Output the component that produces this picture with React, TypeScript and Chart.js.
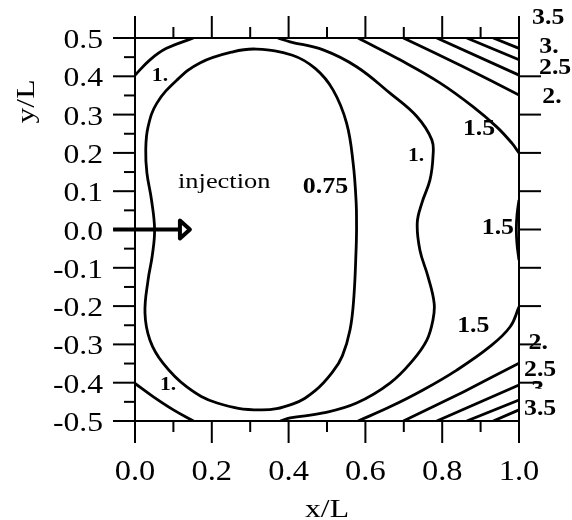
import React, { useEffect, useRef } from "react";
import { Chart, registerables } from "chart.js";

Chart.register(...registerables);

type Pt = [number, number];

// ---- axis ticks ----
const xTicks = [0, 0.2, 0.4, 0.6, 0.8, 1.0];
const xMinorTicks = [0.1, 0.3, 0.5, 0.7, 0.9];
const yTicks = [-0.5, -0.4, -0.3, -0.2, -0.1, 0, 0.1, 0.2, 0.3, 0.4, 0.5];
const yMinorTicks = [-0.45, -0.35, -0.25, -0.15, -0.05, 0.05, 0.15, 0.25, 0.35, 0.45];
const rightTicks = [-0.4, -0.3, -0.2, -0.1, 0, 0.1, 0.2, 0.3, 0.4];

// ---- contour lines (x/L, y/L) ----
const contour075: Pt[] = [
  [0.577, 0.0], [0.576, 0.069], [0.568, 0.174], [0.551, 0.278], [0.516, 0.364],
  [0.47, 0.42], [0.41, 0.455], [0.317, 0.471], [0.255, 0.464], [0.169, 0.435],
  [0.109, 0.39], [0.057, 0.33], [0.034, 0.268], [0.028, 0.208], [0.031, 0.148],
  [0.043, 0.077], [0.051, 0.0], [0.045, -0.068], [0.034, -0.132], [0.026, -0.218],
  [0.039, -0.289], [0.073, -0.349], [0.135, -0.411], [0.214, -0.453], [0.326, -0.471],
  [0.41, -0.456], [0.47, -0.42], [0.516, -0.37], [0.54, -0.33], [0.56, -0.262],
  [0.57, -0.176], [0.576, -0.046], [0.577, 0.0],
];
const contour1Right: Pt[] = [
  [0.372, 0.5], [0.404, 0.49], [0.49, 0.469], [0.577, 0.425], [0.664, 0.356],
  [0.734, 0.295], [0.773, 0.234], [0.776, 0.19], [0.768, 0.129], [0.747, 0.069],
  [0.735, 0.017], [0.742, -0.054], [0.763, -0.123], [0.779, -0.192], [0.776, -0.236],
  [0.76, -0.289], [0.724, -0.341], [0.664, -0.401], [0.577, -0.453], [0.49, -0.479],
  [0.404, -0.492], [0.378, -0.5],
];
const contour1TopLeft: Pt[] = [[0, 0.403], [0.039, 0.443], [0.082, 0.473], [0.152, 0.5]];
const contour1BottomLeft: Pt[] = [[0, -0.402], [0.048, -0.437], [0.1, -0.471], [0.152, -0.5]];
const contour15Top: Pt[] = [
  [0.581, 0.5], [0.69, 0.443], [0.794, 0.383], [0.88, 0.321], [0.942, 0.268], [0.981, 0.226], [1.0, 0.2],
];
const contour15Bottom: Pt[] = [
  [1.0, -0.202], [0.977, -0.254], [0.924, -0.306], [0.838, -0.367], [0.75, -0.419], [0.664, -0.463], [0.581, -0.5],
];
const contour15Mid: Pt[] = [[1.0, 0.077], [0.995, 0.04], [0.993, 0.0], [0.995, -0.04], [1.0, -0.08]];
const contour2Top: Pt[] = [[0.699, 0.5], [0.855, 0.425], [1.0, 0.351]];
const contour2Bottom: Pt[] = [[0.699, -0.5], [0.855, -0.424], [1.0, -0.349]];
const contour25Top: Pt[] = [[0.786, 0.5], [1.0, 0.403]];
const contour25Bottom: Pt[] = [[0.786, -0.5], [1.0, -0.406]];
const contour3Top: Pt[] = [[0.864, 0.5], [1.0, 0.443]];
const contour3Bottom: Pt[] = [[0.864, -0.5], [1.0, -0.445]];
const contour35Top: Pt[] = [[0.933, 0.5], [1.0, 0.473]];
const contour35Bottom: Pt[] = [[0.933, -0.5], [1.0, -0.471]];

// ---- contour level labels (text, x/L, y/L) ----
const levelLabels: { text: string; x: number; y: number }[] = [
  { text: "1.", x: 0.065, y: 0.401 },
  { text: "1.", x: 0.086, y: -0.406 },
  { text: "1.", x: 0.732, y: 0.192 },
  { text: "0.75", x: 0.496, y: 0.111 },
  { text: "1.5", x: 0.896, y: 0.263 },
  { text: "1.5", x: 0.945, y: 0.005 },
  { text: "1.5", x: 0.881, y: -0.253 },
  { text: "3.5", x: 1.076, y: 0.552 },
  { text: "3.", x: 1.078, y: 0.477 },
  { text: "2.5", x: 1.094, y: 0.422 },
  { text: "2.", x: 1.086, y: 0.346 },
  { text: "2.", x: 1.05, y: -0.296 },
  { text: "2.5", x: 1.055, y: -0.367 },
  { text: "3.5", x: 1.055, y: -0.469 },
];
const hiddenLabel = { text: "3.", x: 1.057, y: -0.42 };

const injectionText = "injection";
const injectionPos: Pt = [0.112, 0.108];
const arrowTail = -0.057;
const arrowBase = 0.117;
const arrowTip = 0.143;
const arrowY = 0;

const SERIF = "'Liberation Serif', 'Times New Roman', Times, serif";

function drawText(
  ctx: CanvasRenderingContext2D,
  text: string,
  x: number,
  y: number,
  font: string,
  sx: number,
  align: CanvasTextAlign,
  baseline: CanvasTextBaseline,
  rotate = 0
) {
  ctx.save();
  ctx.translate(x, y);
  if (rotate) ctx.rotate(rotate);
  ctx.scale(sx, 1);
  ctx.font = font;
  ctx.textAlign = align;
  ctx.textBaseline = baseline;
  ctx.fillStyle = "#000";
  ctx.fillText(text, 0, 0);
  ctx.restore();
}

const fmt = (v: number) => (Math.abs(v) < 1e-9 ? 0 : v).toFixed(1);

const decorPlugin = {
  id: "contourDecor",
  afterDraw(chart: any) {
    const { ctx, chartArea: a, scales } = chart;
    const px = (v: number) => scales.x.getPixelForValue(v);
    const py = (v: number) => scales.y.getPixelForValue(v);
    const line = (x1: number, y1: number, x2: number, y2: number) => {
      ctx.beginPath();
      ctx.moveTo(x1, y1);
      ctx.lineTo(x2, y2);
      ctx.stroke();
    };
    ctx.save();
    ctx.strokeStyle = "#000";
    ctx.lineWidth = 2;
    ctx.lineCap = "butt";
    ctx.strokeRect(a.left, a.top, a.right - a.left, a.bottom - a.top);
    const MAJ = 22;
    const MIN = 11;
    xTicks.forEach((v) => {
      const x = px(v);
      line(x, a.bottom, x, a.bottom + MAJ);
      line(x, a.top, x, a.top - MAJ);
    });
    xMinorTicks.forEach((v) => {
      const x = px(v);
      line(x, a.bottom, x, a.bottom + MIN);
      line(x, a.top, x, a.top - MIN);
    });
    yTicks.forEach((v) => {
      const y = py(v);
      line(a.left - MAJ, y, a.left, y);
    });
    yMinorTicks.forEach((v) => {
      const y = py(v);
      line(a.left - MIN, y, a.left, y);
    });
    rightTicks.forEach((v) => {
      const y = py(v);
      line(a.right, y, a.right + MAJ, y);
    });

    // tick labels, taken from the scales' own ticks
    scales.x.ticks.forEach((t: any) => {
      drawText(ctx, fmt(t.value), px(t.value), a.bottom + 59, `29px ${SERIF}`, 1.12, "center", "alphabetic");
    });
    scales.y.ticks.forEach((t: any) => {
      drawText(ctx, fmt(t.value), a.left - 32, py(t.value) + 10, `28px ${SERIF}`, 1.13, "right", "alphabetic");
    });

    // injection arrow
    const y0 = py(arrowY);
    ctx.lineWidth = 4;
    line(px(arrowTail), y0, px(arrowBase), y0);
    ctx.lineJoin = "round";
    ctx.beginPath();
    ctx.moveTo(px(arrowBase), y0 - 9);
    ctx.lineTo(px(arrowBase), y0 + 9);
    ctx.lineTo(px(arrowTip), y0);
    ctx.closePath();
    ctx.fillStyle = "#fff";
    ctx.fill();
    ctx.stroke();

    // contour labels
    levelLabels.forEach((l) => {
      let font = `bold 23px ${SERIF}`;
      let sx = 1.12;
      if (l.text === "1.") {
        font = `bold 18px ${SERIF}`;
        sx = 1.2;
      } else if (l.text === "0.75") {
        font = `bold 24px ${SERIF}`;
        sx = 1.08;
      }
      drawText(ctx, l.text, px(l.x), py(l.y), font, sx, "center", "middle");
    });
    // partly covered label
    ctx.save();
    const hy = py(hiddenLabel.y);
    ctx.beginPath();
    ctx.rect(px(hiddenLabel.x) - 15, hy - 14, 30, 12.5);
    ctx.clip();
    drawText(ctx, hiddenLabel.text, px(hiddenLabel.x), hy, `bold 23px ${SERIF}`, 1.12, "center", "middle");
    ctx.restore();

    drawText(ctx, injectionText, px(injectionPos[0]), py(injectionPos[1]), `22px ${SERIF}`, 1.2, "left", "alphabetic");

    // axis titles
    drawText(ctx, "x/L", (a.left + a.right) / 2, a.bottom + 96, `25px ${SERIF}`, 1.27, "center", "alphabetic");
    drawText(ctx, "y/L", a.left - 108, a.top + 63.5, `25px ${SERIF}`, 1.27, "center", "middle", -Math.PI / 2);
    ctx.restore();
  },
};

export default function App() {
  const ref = useRef<HTMLCanvasElement>(null);
  useEffect(() => {
    document.body.style.margin = "0";
    const canvas = ref.current;
    if (!canvas) return;
    const mk = (data: Pt[], tension: number) => ({
      data: data.map(([x, y]) => ({ x, y })),
      showLine: true,
      borderColor: "#000",
      backgroundColor: "#000",
      borderWidth: 2.8,
      pointRadius: 0,
      pointHoverRadius: 0,
      fill: false,
      tension,
    });
    const chart = new Chart(canvas, {
      type: "scatter",
      data: {
        datasets: [
          mk(contour075, 0.4),
          mk(contour1Right, 0.4),
          mk(contour1TopLeft, 0.4),
          mk(contour1BottomLeft, 0.4),
          mk(contour15Top, 0.4),
          mk(contour15Bottom, 0.4),
          mk(contour15Mid, 0.4),
          mk(contour2Top, 0.2),
          mk(contour2Bottom, 0.2),
          mk(contour25Top, 0),
          mk(contour25Bottom, 0),
          mk(contour3Top, 0),
          mk(contour3Bottom, 0),
          mk(contour35Top, 0),
          mk(contour35Bottom, 0),
        ] as any,
      },
      options: {
        responsive: false,
        animation: false,
        devicePixelRatio: 1,
        events: [],
        layout: { padding: { top: 38, right: 53, bottom: 0, left: 0 } },
        plugins: { legend: { display: false }, tooltip: { enabled: false } },
        scales: {
          x: {
            type: "linear",
            min: 0,
            max: 1,
            afterBuildTicks: (s: any) => {
              s.ticks = xTicks.map((v) => ({ value: v }));
            },
            afterFit: (s: any) => {
              s.height = 99;
            },
            grid: { display: false, drawTicks: false },
            border: { display: false },
            ticks: { display: false },
          },
          y: {
            type: "linear",
            min: -0.5,
            max: 0.5,
            afterBuildTicks: (s: any) => {
              s.ticks = yTicks.map((v) => ({ value: v }));
            },
            afterFit: (s: any) => {
              s.width = 135;
            },
            grid: { display: false, drawTicks: false },
            border: { display: false },
            ticks: { display: false },
          },
        },
      } as any,
      plugins: [decorPlugin],
    });
    return () => chart.destroy();
  }, []);
  return (
    <div style={{ width: 572, height: 520 }}>
      <canvas ref={ref} width={572} height={520} style={{ display: "block" }} />
    </div>
  );
}
